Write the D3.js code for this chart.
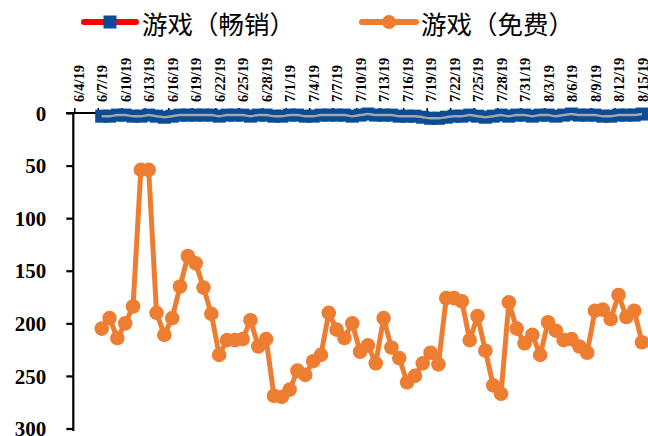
<!DOCTYPE html>
<html>
<head>
<meta charset="utf-8">
<script src="https://cdn.jsdelivr.net/npm/d3@7"></script>
<style>
  html, body { margin: 0; padding: 0; background: #fff; }
  svg { display: block; }
</style>
</head>
<body>
<svg id="chart" width="648" height="436"></svg>
<script>
// ---- data ----
const seriesNames = ["游戏（畅销）", "游戏（免费）"];
const startDate = "2019-06-07"; // first data day, daily through 2019-08-15
const bestSelling = [3,3,2,2,3,3,2,3,4,3,2,2,2,2,2,3,2,2,2,3,
                     2,2,3,3,2,2,3,3,2,2,2,2,3,2,1,2,2,2,3,3,
                     3,4,5,5,4,3,3,2,3,4,3,2,3,2,2,3,2,2,3,2,
                     1,2,2,2,3,3,2,2,2,1];
const freeRank = [205,195,214,200,184,54,54,190,211,195,
                  165,136,143,166,191,230,216,216,215,197,
                  222,215,269,270,263,245,249,236,230,190,
                  206,214,200,227,221,238,195,223,233,256,
                  250,238,228,239,176,176,179,216,193,226,
                  259,267,180,205,219,211,230,199,207,216,
                  215,222,228,188,187,196,173,194,188,218];
const xTickLabels = ["6/4/19","6/7/19","6/10/19","6/13/19","6/16/19","6/19/19","6/22/19",
  "6/25/19","6/28/19","7/1/19","7/4/19","7/7/19","7/10/19","7/13/19","7/16/19","7/19/19",
  "7/22/19","7/25/19","7/28/19","7/31/19","8/3/19","8/6/19","8/9/19","8/12/19","8/15/19"];
const yTicks = [0,50,100,150,200,250,300];

// ---- build ----
const DAY = 86400000;
const t0 = Date.parse(startDate + "T00:00:00Z");
const dates = freeRank.map((_, i) => new Date(t0 + i * DAY));
const parseLabel = s => { const [m, d, y] = s.split("/").map(Number); return new Date(Date.UTC(2000 + y, m - 1, d)); };
const tickDates = xTickLabels.map(parseLabel);

const svg = d3.select("#chart");
const x = d3.scaleUtc()
  .domain([new Date(Date.UTC(2019,5,4)), new Date(Date.UTC(2019,7,16))])
  .range([74.3, 645.9]);
const xc = d => x(new Date(+d + DAY / 2));
const y = d3.scaleLinear().domain([0, 300]).range([113, 428.5]);

const serif = "'Liberation Serif','Times New Roman',serif";

// y axis
const yAxis = svg.append("g").attr("transform", "translate(73.3,0)")
  .call(d3.axisLeft(y).tickValues(yTicks).tickSize(7).tickPadding(20).tickFormat(d3.format("d")));
yAxis.select(".domain").attr("stroke", "#000").attr("stroke-width", 2.2).attr("d", "M0,112V431");
yAxis.selectAll(".tick line").attr("stroke", "#000").attr("stroke-width", 2.2);
yAxis.selectAll(".tick text").attr("font-family", serif).attr("font-weight", "bold")
  .attr("font-size", 21).attr("fill", "#000").attr("dy", "0.34em");

// x axis (top)
const xAxis = svg.append("g").attr("transform", `translate(0,${y(0)})`)
  .call(d3.axisTop(x).tickValues(tickDates).tickSize(5).tickFormat((d, i) => xTickLabels[i]));
xAxis.select(".domain").attr("stroke", "#000").attr("stroke-width", 2).attr("d", "M66,0H646");
xAxis.selectAll(".tick line").attr("stroke", "#000").attr("stroke-width", 1.5);
xAxis.selectAll(".tick text")
  .attr("font-family", serif).attr("font-weight", "bold").attr("font-size", 14.5).attr("fill", "#000")
  .attr("text-anchor", "start").attr("dominant-baseline", "central")
  .attr("transform", "translate(4,-11) rotate(-90)").attr("x", 0).attr("y", 0).attr("dy", null);

// best-selling series: blue squares with grey line
const sq = 13;
svg.append("g").selectAll("rect").data(bestSelling).join("rect")
  .attr("x", (d, i) => xc(dates[i]) - sq / 2)
  .attr("y", d => y(d) - sq / 2)
  .attr("width", sq).attr("height", sq)
  .attr("fill", "#0a4c96");
svg.append("path").datum(bestSelling)
  .attr("fill", "none").attr("stroke", "#a6a6a6").attr("stroke-width", 2.5)
  .attr("d", d3.line().x((d, i) => xc(dates[i])).y(d => y(d)).curve(d3.curveMonotoneX));

// free series: orange line with circles
const orange = "#ED7D31";
svg.append("path").datum(freeRank)
  .attr("fill", "none").attr("stroke", orange).attr("stroke-width", 5).attr("stroke-linejoin", "round")
  .attr("d", d3.line().x((d, i) => xc(dates[i])).y(d => y(d)));
svg.append("g").selectAll("circle").data(freeRank).join("circle")
  .attr("cx", (d, i) => xc(dates[i])).attr("cy", d => y(d)).attr("r", 7.3).attr("fill", orange);

// legend
const cjk = "'Noto Sans CJK SC','Noto Sans',sans-serif";
const lg = svg.append("g");
lg.append("line").attr("x1", 84).attr("x2", 136).attr("y1", 22).attr("y2", 22)
  .attr("stroke", "#ff0000").attr("stroke-width", 6).attr("stroke-linecap", "round");
lg.append("rect").attr("x", 103.5).attr("y", 15.5).attr("width", 13).attr("height", 13).attr("fill", "#0a4c96");
lg.append("text").attr("x", 142).attr("y", 22).attr("dominant-baseline", "central")
  .attr("font-family", cjk).attr("font-size", 25.5).attr("fill", "#000").text(seriesNames[0]);
lg.append("line").attr("x1", 362).attr("x2", 416).attr("y1", 22).attr("y2", 22)
  .attr("stroke", orange).attr("stroke-width", 6).attr("stroke-linecap", "round");
lg.append("circle").attr("cx", 389).attr("cy", 22).attr("r", 7).attr("fill", orange);
lg.append("text").attr("x", 421).attr("y", 22).attr("dominant-baseline", "central")
  .attr("font-family", cjk).attr("font-size", 25.5).attr("fill", "#000").text(seriesNames[1]);
</script>
</body>
</html>
